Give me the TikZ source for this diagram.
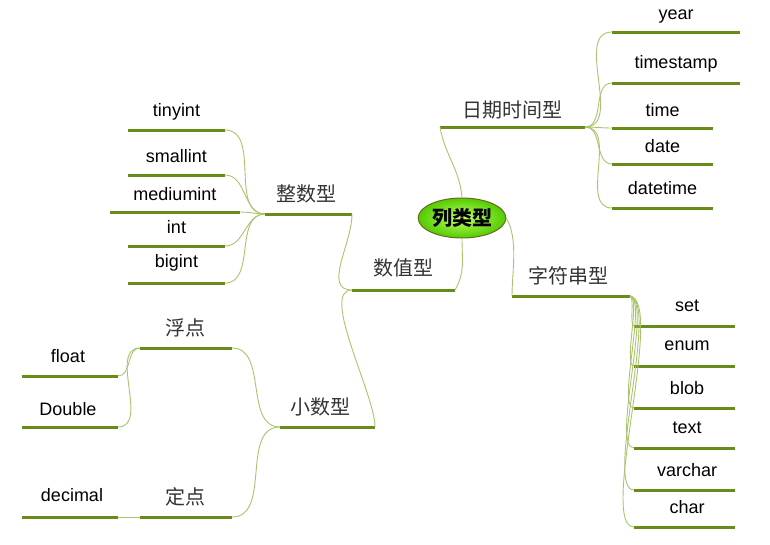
\documentclass[tikz,border=0pt]{standalone}
\usepackage{fontspec}
\usetikzlibrary{shapes.geometric}
\setmainfont{Liberation Sans}
\newfontfamily\cjk{Noto Sans CJK SC}
\definecolor{ulc}{RGB}{104,140,24}
\definecolor{conc}{RGB}{170,195,110}
\begin{document}
\begin{tikzpicture}[x=1pt,y=-1pt,
  ul/.style={draw=ulc,line width=3pt},
  con/.style={draw=conc,line width=0.9pt},
  lbl/.style={font=\fontsize{18}{20}\selectfont,text=black},
  cl/.style={font=\cjk\fontsize{20}{22}\selectfont,text=black!80}]
\useasboundingbox (0,0) rectangle (770,544);
% center
\node[ellipse,draw=olive!70!black,line width=1pt,inner color=yellow!60!green!60,outer color=yellow!40!green!80!black,minimum width=82pt,minimum height=40pt,inner sep=1pt,font=\cjk\bfseries\fontsize{20}{22}\selectfont] (root) at (462,218) {列类型};
% --- 日期时间型
\coordinate (dL) at (440,127); \coordinate (dR) at (585,127);
\draw[ul] (dL)--(dR); \node[cl] (d) at (512,110) {日期时间型};
\draw[con] (root.north) to[out=95,in=-80] (dL);
\foreach \n/\t/\ty/\uy/\r in {year/year/17/32/740,timestamp/timestamp/64/83/740,time/time/110/128/713,date/date/146/164/713,datetime/datetime/188/208/713}{
  \coordinate (\n L) at (612,\uy); \coordinate (\n R) at (\r,\uy);
  \draw[ul] (\n L)--(\n R);
  \node[lbl] (\n) at ({(612+\r)/2},\ty) {\t};
  \draw[con] (dR) to[out=0,in=180] (\n L);
}
% --- 字符串型
\coordinate (sL) at (512,296); \coordinate (sR) at (630,296);
\draw[ul] (sL)--(sR); \node[cl] (s) at (568,276) {字符串型};
\draw[con] (root.east) to[out=-60,in=90,looseness=0.8] (sL);
\foreach \n/\t/\ty/\uy in {set/set/306/326,enum/enum/346/366,blob/blob/388/408,text/text/428/448,varchar/varchar/470/490,char/char/507/527}{
  \coordinate (\n L) at (634,\uy); \coordinate (\n R) at (735,\uy);
  \draw[ul] (\n L)--(\n R);
  \node[lbl] (\n) at (687,\ty) {\t};
  \draw[con] (sR) to[out=-10,in=180,looseness=0.4] (\n L);
}
% --- 数值型
\coordinate (nL) at (352,290); \coordinate (nR) at (455,290);
\draw[ul] (nL)--(nR); \node[cl] (n) at (403,268) {数值型};
\draw[con] (root.south) to[out=-90,in=60] (nR);
% 整数型
\coordinate (iL) at (265,214); \coordinate (iR) at (352,214);
\draw[ul] (iL)--(iR); \node[cl] (i) at (306,194) {整数型};
\draw[con] (nL) to[out=180,in=-90] (iR);
\foreach \n/\t/\ty/\uy/\a/\b in {tinyint/tinyint/112/130/128/225,smallint/smallint/156/175/128/225,mediumint/mediumint/194/212/110/240,int/int/227/246/128/225,bigint/bigint/263/283/128/225}{
  \coordinate (\n L) at (\a,\uy); \coordinate (\n R) at (\b,\uy);
  \draw[ul] (\n L)--(\n R);
  \node[lbl] (\n) at ({(\a+\b)/2},\ty) {\t};
  \draw[con] (iL) to[out=180,in=0] (\n R);
}
% 小数型
\coordinate (xL) at (280,427); \coordinate (xR) at (375,427);
\draw[ul] (xL)--(xR); \node[cl] (x) at (320,407) {小数型};
\draw[con] (nL) to[out=180,in=90,looseness=0.6] (xR);
% 浮点
\coordinate (fL) at (140,348); \coordinate (fR) at (232,348);
\draw[ul] (fL)--(fR); \node[cl] (f) at (185,328) {浮点};
\draw[con] (xL) to[out=180,in=0] (fR);
\coordinate (flL) at (22,376); \coordinate (flR) at (118,376);
\draw[ul] (flL)--(flR); \node[lbl] (fl) at (68,356) {float};
\draw[con] (fL) to[out=180,in=0] (flR);
\coordinate (dbL) at (22,427); \coordinate (dbR) at (118,427);
\draw[ul] (dbL)--(dbR); \node[lbl] (db) at (68,409) {Double};
\draw[con] (fL) to[out=180,in=0] (dbR);
% 定点
\coordinate (gL) at (140,517); \coordinate (gR) at (232,517);
\draw[ul] (gL)--(gR); \node[cl] (g) at (185,497) {定点};
\draw[con] (xL) to[out=180,in=0] (gR);
\coordinate (deL) at (22,517); \coordinate (deR) at (118,517);
\draw[ul] (deL)--(deR); \node[lbl] (de) at (72,495) {decimal};
\draw[con] (gL) to[out=180,in=0] (deR);
\end{tikzpicture}
\end{document}
